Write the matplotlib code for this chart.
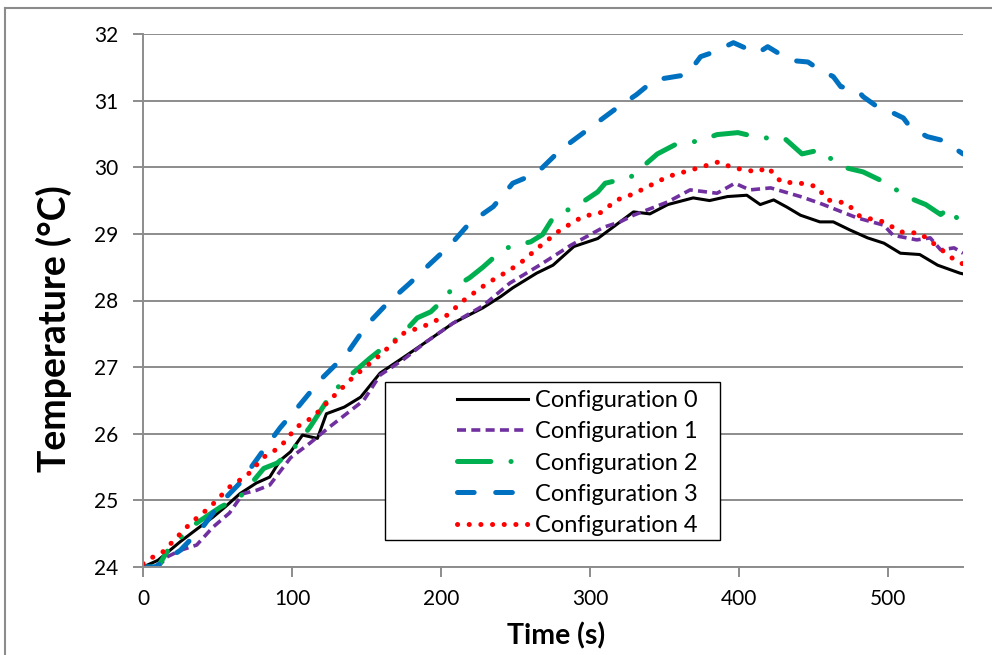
import matplotlib
matplotlib.use("Agg")
import matplotlib.pyplot as plt
from matplotlib.patches import Rectangle
from matplotlib.lines import Line2D

plt.rcParams["font.family"] = ["Lato", "DejaVu Sans"]
plt.rcParams["lines.scale_dashes"] = False

# --- data (time in s, temperature in degC) ---
t0 = [0, 10, 25, 35, 47, 55, 65, 76, 85, 92, 99, 107, 117, 123, 135, 146, 159, 175, 190, 208,
      228, 240, 248, 264, 275, 289, 305, 320, 329, 340, 352, 369, 380, 392, 405, 414, 423, 432,
      441, 454, 463, 474, 486, 497, 508, 521, 533, 548, 550]
T0 = [24.0, 24.1, 24.38, 24.55, 24.75, 24.9, 25.1, 25.26, 25.35, 25.6, 25.73, 25.98, 25.93, 26.3,
      26.4, 26.55, 26.91, 27.15, 27.38, 27.66, 27.89, 28.06, 28.19, 28.41, 28.53, 28.81, 28.93,
      29.18, 29.33, 29.3, 29.44, 29.54, 29.5, 29.56, 29.58, 29.44, 29.51, 29.4, 29.28, 29.18,
      29.18, 29.06, 28.94, 28.86, 28.71, 28.69, 28.53, 28.41, 28.4]

t1 = [0, 10, 16, 25, 36, 47, 58, 67, 76, 85, 99, 112, 125, 148, 159, 175, 190, 208, 228, 246,
      266, 287, 309, 320, 329, 352, 367, 385, 397, 407, 421, 441, 454, 479, 497, 503, 519, 528,
      535, 544, 550]
T1 = [23.98, 24.0, 24.15, 24.25, 24.33, 24.6, 24.81, 25.1, 25.15, 25.23, 25.64, 25.86, 26.1, 26.5,
      26.88, 27.12, 27.38, 27.66, 27.92, 28.26, 28.53, 28.83, 29.1, 29.18, 29.28, 29.48, 29.66,
      29.61, 29.76, 29.66, 29.69, 29.56, 29.46, 29.24, 29.13, 28.98, 28.91, 28.94, 28.76, 28.79,
      28.71]

t2 = [0, 10, 18, 36, 52, 65, 81, 90, 100, 112, 125, 134, 152, 161, 172, 184, 193, 199, 208, 219,
      228, 235, 246, 260, 268, 275, 285, 295, 305, 310, 327, 345, 357, 374, 385, 399, 414, 430,
      442, 454, 463, 470, 483, 497, 513, 525, 535, 541, 550]
T2 = [24.0, 24.0, 24.3, 24.66, 24.9, 25.05, 25.48, 25.56, 25.75, 26.1, 26.55, 26.78, 27.13, 27.29,
      27.45, 27.74, 27.83, 27.96, 28.19, 28.34, 28.5, 28.64, 28.81, 28.88, 28.99, 29.24, 29.36,
      29.48, 29.63, 29.76, 29.85, 30.2, 30.34, 30.4, 30.49, 30.52, 30.44, 30.44, 30.2, 30.26,
      30.1, 30.0, 29.93, 29.78, 29.55, 29.44, 29.29, 29.39, 29.11]

t3 = [0, 8, 25, 40, 52, 65, 81, 92, 105, 119, 137, 150, 164, 179, 193, 206, 219, 235, 248, 264,
      280, 307, 316, 331, 343, 365, 374, 383, 396, 412, 419, 430, 436, 446, 452, 463, 468, 479,
      483, 493, 499, 510, 515, 526, 535, 546, 550]
T3 = [24.0, 24.0, 24.25, 24.6, 24.96, 25.26, 25.76, 26.09, 26.43, 26.81, 27.21, 27.63, 27.96,
      28.26, 28.56, 28.83, 29.16, 29.41, 29.76, 29.91, 30.26, 30.71, 30.86, 31.09, 31.31, 31.39,
      31.66, 31.73, 31.87, 31.71, 31.81, 31.66, 31.6, 31.58, 31.49, 31.36, 31.21, 31.16, 31.06,
      30.9, 30.86, 30.74, 30.59, 30.46, 30.41, 30.26, 30.2]

t4 = [0, 5, 13, 32, 45, 58, 70, 81, 92, 103, 114, 125, 141, 159, 175, 190, 204, 215, 231, 244,
      253, 266, 280, 295, 307, 318, 329, 352, 374, 386, 396, 412, 419, 428, 441, 452, 459, 472,
      481, 497, 508, 521, 530, 546, 550]
T4 = [24.05, 24.13, 24.22, 24.66, 24.9, 25.2, 25.38, 25.65, 25.8, 26.1, 26.25, 26.5, 26.85, 27.18,
      27.51, 27.63, 27.78, 28.0, 28.26, 28.43, 28.56, 28.81, 29.06, 29.26, 29.32, 29.51, 29.6,
      29.86, 30.0, 30.08, 29.99, 29.93, 30.0, 29.78, 29.76, 29.71, 29.51, 29.46, 29.26, 29.18,
      29.03, 29.01, 28.86, 28.58, 28.55]

labels = ["Configuration 0", "Configuration 1", "Configuration 2", "Configuration 3", "Configuration 4"]
xticks = [0, 100, 200, 300, 400, 500]
yticks = [24, 25, 26, 27, 28, 29, 30, 31, 32]

grey = "#8c8c8c"
fig = plt.figure(figsize=(9.92, 6.55), dpi=100)
ax = fig.add_axes([143 / 992, 88 / 655, 820 / 992, 533 / 655])

# chart border (Excel chart area)
fig.add_artist(Line2D([5 / 992, 1], [1 - 8 / 655, 1 - 8 / 655], color=grey, lw=1.5))
fig.add_artist(Line2D([5 / 992, 5 / 992], [0, 1 - 8 / 655], color=grey, lw=1.5))

styles = [
    dict(color="black", lw=2.2),
    dict(color="#7030A0", lw=2.6, dashes=(6.5, 3.8)),
    dict(color="#00B050", lw=3.6, dashes=(24, 14.5, 0.1, 14.5), dash_capstyle="round"),
    dict(color="#0070C0", lw=3.6, dashes=(12, 15.5), dash_capstyle="round"),
    dict(color="#FF0000", lw=3.6, dashes=(0.1, 8.3), dash_capstyle="round"),
]
series = [(t0, T0), (t1, T1), (t2, T2), (t3, T3), (t4, T4)]
handles = []
for (t, T), st, lab in zip(series, styles, labels):
    h, = ax.plot(t, T, label=lab, solid_joinstyle="round", **st)
    handles.append(h)

ax.set_xlim(0, 550)
ax.set_ylim(24, 32)
ax.set_xticks(xticks)
ax.set_yticks(yticks)
ax.yaxis.grid(True, color=grey, lw=1.4)
ax.set_axisbelow(True)
for s in ["top", "right"]:
    ax.spines[s].set_visible(False)
for s in ["left", "bottom"]:
    ax.spines[s].set_color(grey)
    ax.spines[s].set_linewidth(1.4)
ax.tick_params(axis="both", colors=grey, length=7, width=1.4, labelsize=15, labelcolor="black")
ax.tick_params(axis="x", pad=9)
ax.tick_params(axis="y", pad=11)

ax.set_xlabel("Time (s)", fontsize=20.5, fontweight="bold")
ax.set_ylabel("Temperature (°C)", fontsize=27, fontweight="bold")
ax.xaxis.set_label_coords(0.504, -0.104)
ax.yaxis.set_label_coords(-0.087, 0.4465)

# legend box
ax.add_patch(Rectangle((0.295, 0.0507), 0.4085, 0.296, transform=ax.transAxes,
                       facecolor="white", edgecolor="black", lw=1.0, zorder=4))
leg = ax.legend(handles=handles, loc="center left", bbox_to_anchor=(0.383, 0.195),
                frameon=False, fontsize=17, handlelength=3.0, handletextpad=0.3,
                labelspacing=0.43, borderpad=0, borderaxespad=0)
leg.set_zorder(5)

fig.savefig("out.png", dpi=100)
